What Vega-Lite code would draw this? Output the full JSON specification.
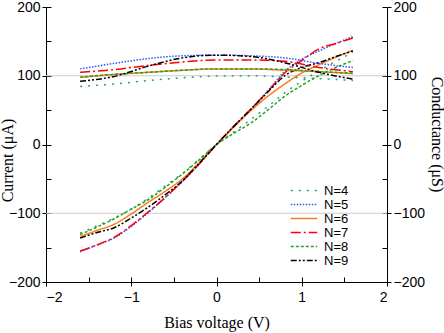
{
  "$schema": "https://vega.github.io/schema/vega-lite/v6.json",
  "width": 341,
  "height": 275,
  "autosize": {"type": "none"},
  "padding": {"left": 46, "top": 7, "right": 57, "bottom": 51},
  "config": {
    "view": {"stroke": null},
    "axis": {
      "labelFont": "Liberation Sans", "labelFontSize": 14, "labelColor": "#000",
      "titleFont": "Liberation Serif", "titleFontSize": 16, "titleFontWeight": "normal", "titleColor": "#000",
      "domainColor": "#000", "tickColor": "#000", "domainWidth": 1, "tickWidth": 1, "grid": false
    },
    "legend": {"labelFont": "Liberation Sans", "labelFontSize": 13, "labelColor": "#000"}
  },
  "layer": [
    {
      "data": {"values": [{"g": -100}, {"g": 100}]},
      "mark": {"type": "rule", "color": "#cccccc", "strokeWidth": 1},
      "encoding": {"y": {"field": "g", "type": "quantitative", "axis": null}}
    },
    {
      "mark": {"type": "rule", "color": "#999999", "strokeWidth": 2},
      "encoding": {"y": {"datum": 0, "type": "quantitative", "axis": null}}
    },
    {
      "mark": {"type": "rule", "color": "#999999", "strokeWidth": 2},
      "encoding": {"x": {"datum": 0, "type": "quantitative", "axis": null}}
    },
    {
      "data": {"values": [
        {"N":"N=4","kind":"I","V":-1.6,"y":-129},{"N":"N=4","kind":"I","V":-1.4,"y":-118},{"N":"N=4","kind":"I","V":-1.2,"y":-107},{"N":"N=4","kind":"I","V":-1.0,"y":-94},{"N":"N=4","kind":"I","V":-0.8,"y":-78},{"N":"N=4","kind":"I","V":-0.6,"y":-60},{"N":"N=4","kind":"I","V":-0.4,"y":-42},{"N":"N=4","kind":"I","V":-0.2,"y":-21},{"N":"N=4","kind":"I","V":0,"y":0},{"N":"N=4","kind":"I","V":0.2,"y":18},{"N":"N=4","kind":"I","V":0.4,"y":36},{"N":"N=4","kind":"I","V":0.6,"y":55},{"N":"N=4","kind":"I","V":0.8,"y":75},{"N":"N=4","kind":"I","V":1.0,"y":92},{"N":"N=4","kind":"I","V":1.2,"y":107},{"N":"N=4","kind":"I","V":1.4,"y":121},{"N":"N=4","kind":"I","V":1.6,"y":134},
        {"N":"N=5","kind":"I","V":-1.6,"y":-156},{"N":"N=5","kind":"I","V":-1.4,"y":-146},{"N":"N=5","kind":"I","V":-1.2,"y":-136},{"N":"N=5","kind":"I","V":-1.0,"y":-119},{"N":"N=5","kind":"I","V":-0.8,"y":-99},{"N":"N=5","kind":"I","V":-0.6,"y":-77},{"N":"N=5","kind":"I","V":-0.4,"y":-54},{"N":"N=5","kind":"I","V":-0.2,"y":-28},{"N":"N=5","kind":"I","V":0,"y":0},{"N":"N=5","kind":"I","V":0.2,"y":26},{"N":"N=5","kind":"I","V":0.4,"y":51},{"N":"N=5","kind":"I","V":0.6,"y":78},{"N":"N=5","kind":"I","V":0.8,"y":106},{"N":"N=5","kind":"I","V":1.0,"y":124},{"N":"N=5","kind":"I","V":1.2,"y":136},{"N":"N=5","kind":"I","V":1.4,"y":147},{"N":"N=5","kind":"I","V":1.6,"y":157},
        {"N":"N=6","kind":"I","V":-1.6,"y":-134},{"N":"N=6","kind":"I","V":-1.4,"y":-125},{"N":"N=6","kind":"I","V":-1.2,"y":-116},{"N":"N=6","kind":"I","V":-1.0,"y":-101},{"N":"N=6","kind":"I","V":-0.8,"y":-84},{"N":"N=6","kind":"I","V":-0.6,"y":-68},{"N":"N=6","kind":"I","V":-0.4,"y":-50},{"N":"N=6","kind":"I","V":-0.2,"y":-26},{"N":"N=6","kind":"I","V":0,"y":0},{"N":"N=6","kind":"I","V":0.2,"y":25},{"N":"N=6","kind":"I","V":0.4,"y":49},{"N":"N=6","kind":"I","V":0.6,"y":70},{"N":"N=6","kind":"I","V":0.8,"y":88},{"N":"N=6","kind":"I","V":1.0,"y":104},{"N":"N=6","kind":"I","V":1.2,"y":116},{"N":"N=6","kind":"I","V":1.4,"y":127},{"N":"N=6","kind":"I","V":1.6,"y":137},
        {"N":"N=7","kind":"I","V":-1.6,"y":-155},{"N":"N=7","kind":"I","V":-1.4,"y":-146},{"N":"N=7","kind":"I","V":-1.2,"y":-135},{"N":"N=7","kind":"I","V":-1.0,"y":-118},{"N":"N=7","kind":"I","V":-0.8,"y":-98},{"N":"N=7","kind":"I","V":-0.6,"y":-77},{"N":"N=7","kind":"I","V":-0.4,"y":-53},{"N":"N=7","kind":"I","V":-0.2,"y":-28},{"N":"N=7","kind":"I","V":0,"y":0},{"N":"N=7","kind":"I","V":0.2,"y":26},{"N":"N=7","kind":"I","V":0.4,"y":51},{"N":"N=7","kind":"I","V":0.6,"y":77},{"N":"N=7","kind":"I","V":0.8,"y":104},{"N":"N=7","kind":"I","V":1.0,"y":122},{"N":"N=7","kind":"I","V":1.2,"y":139},{"N":"N=7","kind":"I","V":1.4,"y":147},{"N":"N=7","kind":"I","V":1.6,"y":155},
        {"N":"N=8","kind":"I","V":-1.6,"y":-131},{"N":"N=8","kind":"I","V":-1.4,"y":-120},{"N":"N=8","kind":"I","V":-1.2,"y":-108},{"N":"N=8","kind":"I","V":-1.0,"y":-94},{"N":"N=8","kind":"I","V":-0.8,"y":-80},{"N":"N=8","kind":"I","V":-0.6,"y":-62},{"N":"N=8","kind":"I","V":-0.4,"y":-43},{"N":"N=8","kind":"I","V":-0.2,"y":-22},{"N":"N=8","kind":"I","V":0,"y":0},{"N":"N=8","kind":"I","V":0.2,"y":16},{"N":"N=8","kind":"I","V":0.4,"y":31},{"N":"N=8","kind":"I","V":0.6,"y":50},{"N":"N=8","kind":"I","V":0.8,"y":70},{"N":"N=8","kind":"I","V":1.0,"y":86},{"N":"N=8","kind":"I","V":1.2,"y":100},{"N":"N=8","kind":"I","V":1.4,"y":112},{"N":"N=8","kind":"I","V":1.6,"y":122},
        {"N":"N=9","kind":"I","V":-1.6,"y":-136},{"N":"N=9","kind":"I","V":-1.4,"y":-128},{"N":"N=9","kind":"I","V":-1.2,"y":-121},{"N":"N=9","kind":"I","V":-1.0,"y":-107},{"N":"N=9","kind":"I","V":-0.8,"y":-91},{"N":"N=9","kind":"I","V":-0.6,"y":-73},{"N":"N=9","kind":"I","V":-0.4,"y":-53},{"N":"N=9","kind":"I","V":-0.2,"y":-27},{"N":"N=9","kind":"I","V":0,"y":0},{"N":"N=9","kind":"I","V":0.2,"y":26},{"N":"N=9","kind":"I","V":0.4,"y":51},{"N":"N=9","kind":"I","V":0.6,"y":76},{"N":"N=9","kind":"I","V":0.8,"y":100},{"N":"N=9","kind":"I","V":1.0,"y":112},{"N":"N=9","kind":"I","V":1.2,"y":119},{"N":"N=9","kind":"I","V":1.4,"y":128},{"N":"N=9","kind":"I","V":1.6,"y":136},
        {"N":"N=4","kind":"G","V":-1.6,"y":84.5},{"N":"N=4","kind":"G","V":-1.2,"y":88},{"N":"N=4","kind":"G","V":-0.8,"y":93},{"N":"N=4","kind":"G","V":-0.4,"y":97},{"N":"N=4","kind":"G","V":0,"y":99.5},{"N":"N=4","kind":"G","V":0.4,"y":100},{"N":"N=4","kind":"G","V":0.8,"y":98},{"N":"N=4","kind":"G","V":1.2,"y":96},{"N":"N=4","kind":"G","V":1.6,"y":93},
        {"N":"N=5","kind":"G","V":-1.6,"y":110},{"N":"N=5","kind":"G","V":-1.2,"y":118},{"N":"N=5","kind":"G","V":-0.8,"y":125},{"N":"N=5","kind":"G","V":-0.4,"y":129},{"N":"N=5","kind":"G","V":0,"y":130},{"N":"N=5","kind":"G","V":0.4,"y":129},{"N":"N=5","kind":"G","V":0.8,"y":126},{"N":"N=5","kind":"G","V":1.2,"y":118},{"N":"N=5","kind":"G","V":1.6,"y":112},
        {"N":"N=6","kind":"G","V":-1.6,"y":97.5},{"N":"N=6","kind":"G","V":-1.2,"y":102},{"N":"N=6","kind":"G","V":-0.8,"y":105},{"N":"N=6","kind":"G","V":-0.4,"y":108},{"N":"N=6","kind":"G","V":0,"y":110},{"N":"N=6","kind":"G","V":0.4,"y":110},{"N":"N=6","kind":"G","V":0.8,"y":108},{"N":"N=6","kind":"G","V":1.2,"y":106},{"N":"N=6","kind":"G","V":1.6,"y":103},
        {"N":"N=7","kind":"G","V":-1.6,"y":105},{"N":"N=7","kind":"G","V":-1.2,"y":109},{"N":"N=7","kind":"G","V":-0.8,"y":115},{"N":"N=7","kind":"G","V":-0.4,"y":120},{"N":"N=7","kind":"G","V":0,"y":123},{"N":"N=7","kind":"G","V":0.4,"y":123},{"N":"N=7","kind":"G","V":0.8,"y":121},{"N":"N=7","kind":"G","V":1.2,"y":112},{"N":"N=7","kind":"G","V":1.6,"y":106},
        {"N":"N=8","kind":"G","V":-1.6,"y":98},{"N":"N=8","kind":"G","V":-1.2,"y":102},{"N":"N=8","kind":"G","V":-0.8,"y":105},{"N":"N=8","kind":"G","V":-0.4,"y":108},{"N":"N=8","kind":"G","V":0,"y":110},{"N":"N=8","kind":"G","V":0.4,"y":110},{"N":"N=8","kind":"G","V":0.8,"y":109},{"N":"N=8","kind":"G","V":1.2,"y":106},{"N":"N=8","kind":"G","V":1.6,"y":104},
        {"N":"N=9","kind":"G","V":-1.6,"y":92},{"N":"N=9","kind":"G","V":-1.2,"y":99},{"N":"N=9","kind":"G","V":-0.8,"y":114},{"N":"N=9","kind":"G","V":-0.4,"y":126},{"N":"N=9","kind":"G","V":0,"y":130},{"N":"N=9","kind":"G","V":0.4,"y":128},{"N":"N=9","kind":"G","V":0.8,"y":119},{"N":"N=9","kind":"G","V":1.2,"y":105},{"N":"N=9","kind":"G","V":1.6,"y":95}
      ]},
      "mark": {"type": "line", "strokeWidth": 1.5, "interpolate": "monotone"},
      "encoding": {
        "x": {"field": "V", "type": "quantitative", "scale": {"domain": [-2, 2], "nice": false},
              "axis": {"title": "Bias voltage (V)", "values": [-2, -1, 0, 1, 2], "tickSize": 4, "labelPadding": 4, "titleY": 40, "titleBaseline": "middle"}},
        "y": {"field": "y", "type": "quantitative", "scale": {"domain": [-200, 200], "nice": false},
              "axis": {"title": "Current (μA)", "orient": "left", "values": [-200, -100, 0, 100, 200], "tickSize": 4, "labelPadding": 2, "titleX": -38.5, "titleY": 153, "titleBaseline": "middle"}},
        "color": {"field": "N", "type": "nominal",
                  "scale": {"domain": ["N=4", "N=5", "N=6", "N=7", "N=8", "N=9"], "range": ["#2a9d7c", "#2f55ff", "#ff7a1f", "#ff0000", "#1fa51f", "#000000"]},
                  "legend": {"orient": "none", "legendX": 244, "legendY": 177, "title": null, "symbolType": "stroke", "symbolSize": 700, "symbolStrokeWidth": 1.5, "clipHeight": 13, "rowPadding": 0, "labelOffset": 6, "padding": 0}},
        "strokeDash": {"field": "N", "type": "nominal",
                       "scale": {"domain": ["N=4", "N=5", "N=6", "N=7", "N=8", "N=9"], "range": [[2, 6], [1.5, 1.5], [1, 0], [10, 3, 2, 3], [3, 2], [6, 2, 2, 2, 2, 2]]}},
        "detail": {"field": "kind", "type": "nominal"}
      }
    },
    {
      "mark": {"type": "rule", "opacity": 0},
      "encoding": {"y": {"datum": 0, "type": "quantitative",
        "axis": {"orient": "left", "title": null, "values": [-200, -150, -100, -50, 0, 50, 100, 150, 200], "tickSize": -5, "labels": false, "domain": false}}}
    },
    {
      "mark": {"type": "rule", "opacity": 0},
      "encoding": {"y": {"datum": 0, "type": "quantitative",
        "axis": {"orient": "right", "title": "Conductance (μS)", "values": [-200, -100, 0, 100, 200], "tickSize": 4, "labelPadding": 2, "titleX": 49, "titleY": 127, "titleAngle": 90, "titleBaseline": "middle"}}}
    },
    {
      "mark": {"type": "rule", "opacity": 0},
      "encoding": {"y": {"datum": 0, "type": "quantitative",
        "axis": {"orient": "right", "title": null, "values": [-200, -150, -100, -50, 0, 50, 100, 150, 200], "tickSize": -5, "labels": false, "domain": false}}}
    },
    {
      "mark": {"type": "rule", "opacity": 0},
      "encoding": {"x": {"datum": 0, "type": "quantitative",
        "axis": {"orient": "bottom", "title": null, "values": [-2, -1.5, -1, -0.5, 0, 0.5, 1, 1.5, 2], "tickSize": -5, "labels": false, "domain": false}}}
    }
  ],
  "resolve": {"axis": {"x": "independent", "y": "independent"}}
}
